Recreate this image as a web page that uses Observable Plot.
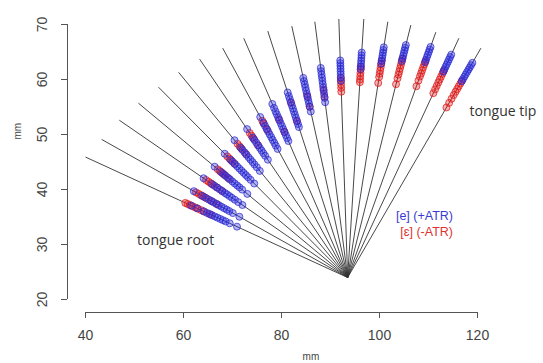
<!DOCTYPE html>
<html>
<head>
<meta charset="utf-8">
<script src="https://cdn.jsdelivr.net/npm/d3@7"></script>
<script src="https://cdn.jsdelivr.net/npm/@observablehq/plot@0.6"></script>
<style>
  html, body { margin: 0; padding: 0; background: #fff; }
  svg { display: block; }
</style>
</head>
<body>
<div id="chart"></div>
<script>
// ---- data (mm) ----
const xTicks = [40, 60, 80, 100, 120];
const yTicks = [20, 30, 40, 50, 60, 70];
const originX = 93.5;
const originY = 24.0;
// outer end of each of the 19 ultrasound scan lines (root -> tip)
const rayEndX = [40.0, 43.3, 46.9, 50.8, 54.9, 59.0, 63.3, 68.0, 72.3, 77.2, 82.1, 86.8, 91.7, 96.8, 101.7, 106.4, 111.5, 116.2, 120.7];
const rayEndY = [45.9, 49.1, 52.6, 55.7, 58.6, 61.3, 63.7, 65.7, 67.5, 68.8, 69.7, 70.5, 71.0, 71.0, 70.5, 69.9, 68.6, 67.5, 65.7];
// tongue-contour crossings: distance (mm) from the probe origin along each scan line
const blueDist = [
  [34.5, 33.2, 31.8, 31.0, 30.5, 29.9, 29.3, 28.7, 28.1, 27.5, 26.9, 26.0, 24.4],
  [35.1, 33.2, 32.5, 31.7, 31.2, 30.6, 30.0, 29.4, 28.8, 28.2, 27.6, 27.0, 26.2, 24.7],
  [34.5, 32.5, 31.8, 31.2, 30.6, 30.0, 29.4, 28.9, 28.3, 27.7, 27.0, 26.2, 25.2],
  [33.8, 32.2, 31.6, 31.0, 30.5, 29.9, 29.3, 28.7, 28.1, 27.5, 26.8, 25.5],
  [33.7, 32.1, 31.5, 30.9, 30.3, 29.7, 29.1, 28.5, 27.9, 27.3, 26.6, 25.6],
  [34.0, 32.2, 31.6, 31.0, 30.4, 29.8, 29.2, 28.6, 28.0, 27.3, 26.4],
  [33.9, 32.0, 31.4, 30.8, 30.2, 29.6, 29.0, 28.4, 27.8, 26.9],
  [34.2, 33.0, 32.3, 31.7, 31.1, 30.5, 29.9, 29.3, 28.7, 28.1, 27.4],
  [35.1, 34.3, 33.6, 33.0, 32.4, 31.8, 31.2, 30.6, 30.0, 29.4, 28.8, 28.2, 27.6],
  [35.8, 35.1, 34.5, 33.9, 33.3, 32.7, 32.1, 31.5, 30.9, 30.3, 29.7, 29.1],
  [37.4, 36.8, 36.2, 35.6, 35.0, 34.4, 33.8, 33.2, 32.6, 32.0, 31.1],
  [38.5, 37.9, 37.3, 36.7, 36.1, 35.5, 34.9, 34.3, 33.7, 33.0, 32.2],
  [39.5, 39.0, 38.5, 38.0, 37.5, 37.0, 36.4, 35.8],
  [41.0, 40.5, 40.0, 39.5, 39.0, 38.5, 38.0],
  [42.5, 42.0, 41.5, 41.0, 40.5, 40.0, 39.5],
  [43.9, 43.4, 42.9, 42.4, 41.9, 41.4, 40.9],
  [45.2, 44.7, 44.2, 43.7, 43.2, 42.7, 42.2],
  [45.7, 45.2, 44.7, 44.2, 43.7, 43.2, 42.7, 42.2],
  [46.6, 46.1, 45.6, 45.1, 44.6, 44.1, 43.6, 43.1, 42.6]
];
const redDist = [
  [35.8, 35.3, 34.8, 34.2, 33.6, 33.0, 32.3, 31.6, 30.2],
  [34.6, 34.0, 33.5, 32.9, 32.2, 31.0, 29.8],
  [33.9, 33.3, 32.8, 32.2, 31.3, 30.1],
  [33.0, 32.5, 31.9, 31.3, 30.2],
  [33.0, 32.4, 31.8, 31.0],
  [33.1, 32.5, 31.9, 30.6],
  [33.0, 32.4, 31.7, 30.2],
  [33.4, 32.8, 31.5],
  [32.0, 29.5],
  [33.8, 30.3],
  [34.0, 32.0],
  [34.5, 33.2],
  [36.3, 35.7, 35.1, 34.5, 33.8],
  [38.4, 37.9, 37.3, 36.7, 36.1, 35.6],
  [40.0, 39.4, 38.8, 38.2, 37.6, 37.0, 35.9],
  [41.3, 40.7, 40.1, 39.5, 38.9, 38.3, 37.6, 36.5],
  [42.4, 41.8, 41.2, 40.6, 40.0, 39.4, 38.6, 37.5],
  [42.4, 41.8, 41.2, 40.6, 40.0, 39.3, 38.6, 37.8],
  [42.7, 42.1, 41.5, 40.9, 40.3, 39.6, 38.8, 37.9, 36.9]
];
const legendLabels = ["[e] (+ATR)", "[ɛ] (-ATR)"];
const regionLabels = ["tongue root", "tongue tip"];
const axisTitle = "mm";

// ---- build tables ----
const rays = rayEndX.map((ex, i) => ({x1: originX, y1: originY, x2: ex, y2: rayEndY[i]}));
function along(i, d) {
  const ex = rayEndX[i], ey = rayEndY[i];
  const L = Math.hypot(ex - originX, ey - originY);
  return {x: originX + (d / L) * (ex - originX), y: originY + (d / L) * (ey - originY)};
}
const bluePts = blueDist.flatMap((ds, i) => ds.map(d => along(i, d)));
const redPts = redDist.flatMap((ds, i) => ds.map(d => along(i, d)));

const axisColor = "#555";
const tickFont = 14;

const chart = Plot.plot({
  width: 543,
  height: 363,
  marginLeft: 85,
  marginRight: 66,
  marginTop: 24,
  marginBottom: 64,
  x: {domain: [40, 120], axis: null},
  y: {domain: [20, 70], axis: null},
  style: {fontFamily: "'Liberation Sans', Arial, sans-serif", background: "#fff", overflow: "visible"},
  marks: [
    // x axis (R style, offset below the plot region)
    Plot.ruleY([20], {x1: 40, x2: 120, dy: 13, stroke: axisColor, strokeWidth: 1}),
    Plot.ruleX(xTicks, {x: d => d, y1: () => 20, y2: () => 20, insetBottom: -6, dy: 13, stroke: axisColor}),
    Plot.text(xTicks, {x: d => d, y: () => 20, dy: 36, text: d => String(d), fontSize: tickFont, fill: "#444"}),
    Plot.text([axisTitle], {x: () => 86, y: () => 20, dy: 57, text: d => d, fontSize: 10, fill: "#444"}),
    // y axis
    Plot.ruleX([40], {y1: 20, y2: 70, dx: -18, stroke: axisColor, strokeWidth: 1}),
    Plot.ruleY(yTicks, {y: d => d, x1: () => 40, x2: () => 40, insetLeft: -6, dx: -18, stroke: axisColor}),
    Plot.text(yTicks, {x: () => 40, y: d => d, dx: -43, rotate: -90, text: d => String(d), fontSize: tickFont, fill: "#444"}),
    Plot.text([axisTitle], {x: () => 40, y: () => 50.6, dx: -68, rotate: -90, text: d => d, fontSize: 10, fill: "#444"}),
    // scan lines
    Plot.link(rays, {x1: "x1", y1: "y1", x2: "x2", y2: "y2", stroke: "#333", strokeWidth: 0.9}),
    // points
    Plot.dot(redPts, {x: "x", y: "y", r: 3.5, fill: "rgba(240,30,30,0.35)", stroke: "rgba(215,20,20,0.7)", strokeWidth: 1}),
    Plot.dot(bluePts, {x: "x", y: "y", r: 3.5, fill: "rgba(40,40,235,0.35)", stroke: "rgba(40,40,200,0.7)", strokeWidth: 1}),
    // annotations
    Plot.text([regionLabels[0]], {x: () => 58.4, y: () => 30.75, text: d => d, fontSize: 14, fill: "#333", fontFamily: "'Open Sans', sans-serif"}),
    Plot.text([regionLabels[1]], {x: () => 125.2, y: () => 54.1, text: d => d, fontSize: 14, fill: "#333", fontFamily: "'Open Sans', sans-serif"}),
    Plot.text([legendLabels[0]], {x: () => 115.0, y: () => 35.1, text: d => d, textAnchor: "end", fontSize: 12.5, fill: "#3a3ad2"}),
    Plot.text([legendLabels[1]], {x: () => 115.0, y: () => 32.2, text: d => d, textAnchor: "end", fontSize: 12.5, fill: "#e03232"})
  ]
});
document.getElementById("chart").appendChild(chart);
</script>
</body>
</html>
